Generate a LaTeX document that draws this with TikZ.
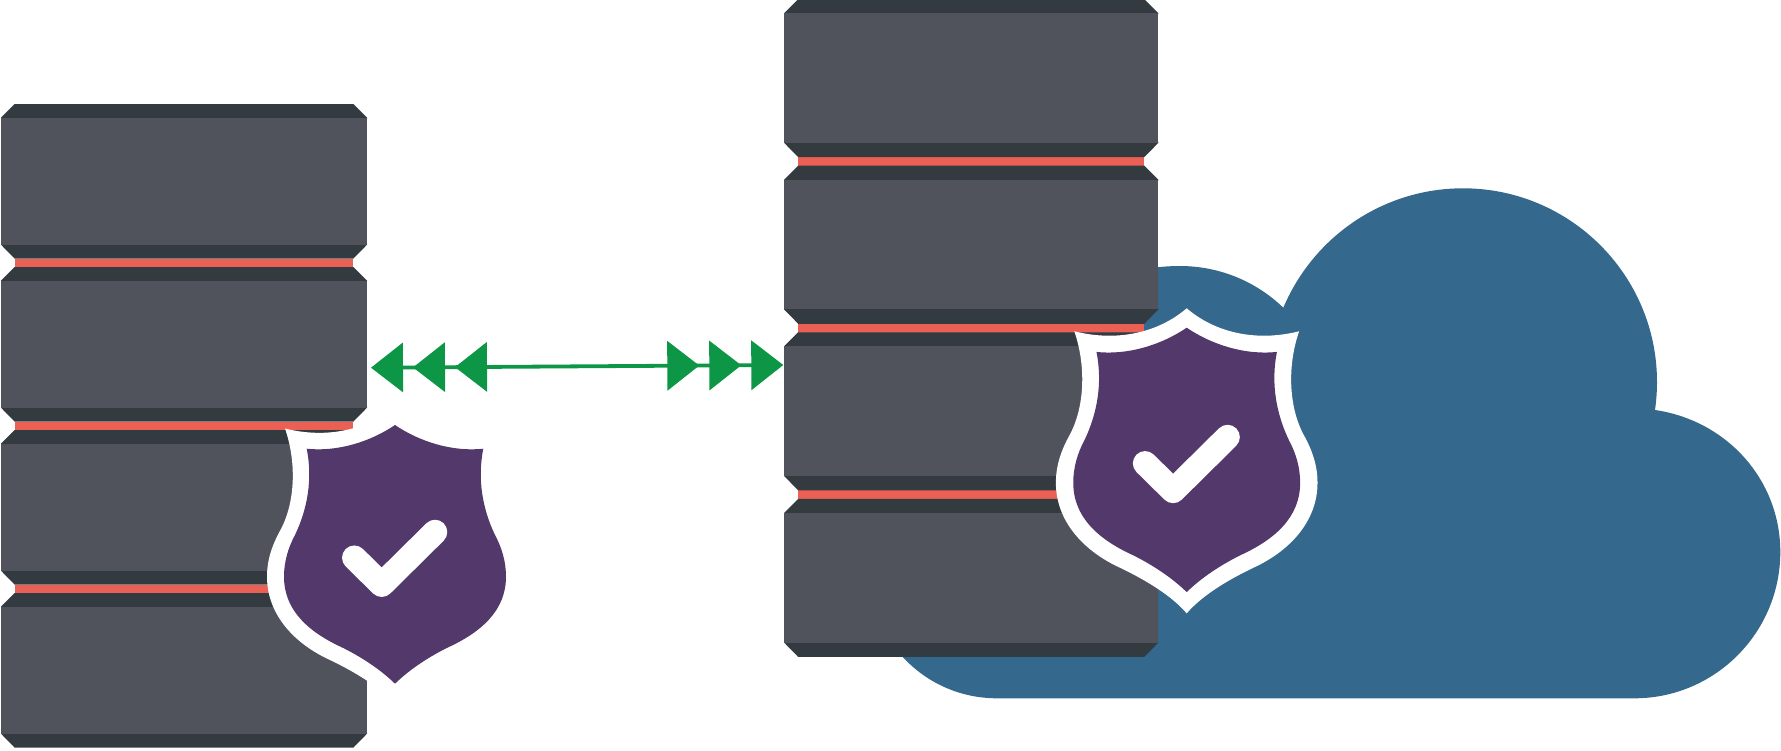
\documentclass[tikz,border=0pt]{standalone}
\usepackage{amsmath}
\usetikzlibrary{arrows.meta}

\definecolor{serverbody}{HTML}{50535C}
\definecolor{serverband}{HTML}{333B41}
\definecolor{serverled}{HTML}{EB6055}
\definecolor{shieldfill}{HTML}{52386B}
\definecolor{cloudfill}{HTML}{34688C}
\definecolor{linkgreen}{HTML}{0D9645}

\tikzset{
	bodyfill/.style={fill=serverbody},
	bandfill/.style={fill=serverband},
	ledfill/.style={fill=serverled},
	linkline/.style={draw=linkgreen,fill=linkgreen,line width=3.8pt},
	triplehead/.tip={Triangle[length=32pt,width=49pt,sep=10pt] Triangle[length=32pt,width=49pt,sep=10pt] Triangle[length=32pt,width=49pt]},
	serverstack/.pic={
		\foreach \k in {0,1,2}
			\fill[ledfill] (13.7,154.7+163*\k) rectangle (352.3,163.5+163*\k);
		\foreach \k in {0,1,2,3} {
			\fill[bandfill] (0,14.7+163*\k) -- (0,13.7+163*\k) -- (13.7,163*\k) -- (352.3,163*\k) -- (366,13.7+163*\k) -- (366,14.7+163*\k) -- cycle;
			\fill[bandfill] (0,139.7+163*\k) -- (0,140.7+163*\k) -- (13.7,154.7+163*\k) -- (352.3,154.7+163*\k) -- (366,140.7+163*\k) -- (366,139.7+163*\k) -- cycle;
			\fill[bodyfill] (0,13.7+163*\k) rectangle (366,140.7+163*\k);
		}
	},
	shieldicon/.pic={
		% white rim
		\fill[white] (0,-19) .. controls (28,5) and (68,14) .. (110,3.5)
			.. controls (99,35) and (99,75) .. (114,104)
			.. controls (123,120) and (128,135) .. (128,151.7)
			.. controls (128,190) and (100,219) .. (65,235)
			.. controls (40,247) and (15,262) .. (0,279.5)
			.. controls (-15,262) and (-40,247) .. (-65,235)
			.. controls (-100,219) and (-128,190) .. (-128,151.7)
			.. controls (-128,135) and (-123,120) .. (-114,104)
			.. controls (-99,75) and (-99,35) .. (-110,3.5)
			.. controls (-68,14) and (-28,5) .. (0,-19) -- cycle;
		\fill[shieldfill] (0,0) .. controls (25,17) and (58,27) .. (88.3,23.7)
			.. controls (82,55) and (88,85) .. (100,110)
			.. controls (107,123) and (111,137) .. (111,151.7)
			.. controls (111,185) and (87,207) .. (51.7,223)
			.. controls (32,233) and (14,245) .. (0,258.7)
			.. controls (-14,245) and (-32,233) .. (-51.7,223)
			.. controls (-87,207) and (-111,185) .. (-111,151.7)
			.. controls (-111,137) and (-107,123) .. (-100,110)
			.. controls (-88,85) and (-82,55) .. (-88.3,23.7)
			.. controls (-58,27) and (-25,17) .. (0,0) -- cycle;
		% check mark
		\draw[white,line width=24.5pt,line cap=round,line join=round] (-40.7,132.7) -- (-13.3,159.7) -- (40,107);
	}
}

\begin{document}
\begin{tikzpicture}[x=1pt,y=-1pt]
	\useasboundingbox (0,0) rectangle (1781,750);

	% left stack
	\pic at (1,104) {serverstack};
	\pic at (395,425) {shieldicon};

	% cloud
	\fill[cloudfill] (997,698.3) .. controls (926,698.3) and (869,641) .. (869,570)
		.. controls (869,400) and (1050,266) .. (1180,266)
		.. controls (1218.6,266) and (1255.5,280.9) .. (1283.3,307.7)
		.. controls (1314.1,235.2) and (1384.6,188.3) .. (1463,188.3)
		.. controls (1570,188.3) and (1657,275) .. (1657,382)
		.. controls (1657,391.3) and (1656.3,400.7) .. (1655,410)
		.. controls (1726.6,420.4) and (1780.3,479.6) .. (1780.3,552)
		.. controls (1780.3,632.6) and (1714.9,698.3) .. (1634.3,698.3) -- cycle;

	% right stack
	\pic[scale=1.022] at (784.2,-0.9) {serverstack};
	\pic[scale=1.022] at (1186.7,327.7) {shieldicon};

	% link between the stacks
	\coordinate (linkleft) at (371,367.7);
	\coordinate (linkright) at (783.3,365);
	\draw[linkline,triplehead-triplehead] (linkleft) -- (linkright);
\end{tikzpicture}
\end{document}
